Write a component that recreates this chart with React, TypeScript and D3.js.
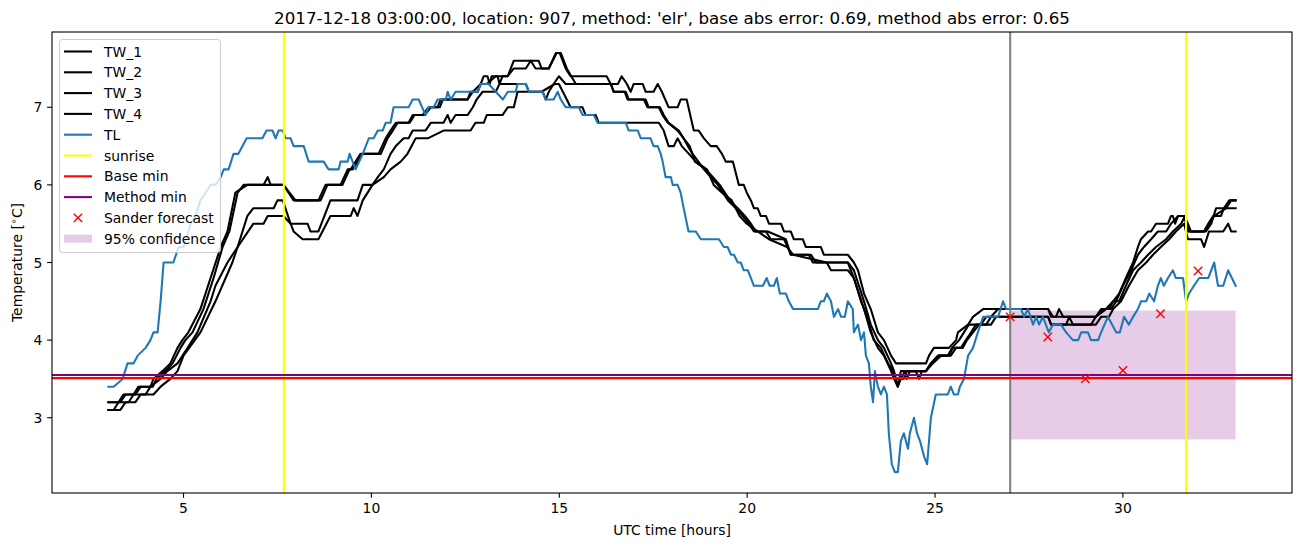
import React from "react";
import * as d3 from "d3";

// ---------- data (hours, °C) ----------
const TL: [number, number][] = [
[3.00,3.4],[3.14,3.4],[3.38,3.5],[3.51,3.7],[3.67,3.7],[3.78,3.8],[3.99,3.9],[4.12,4.0],[4.20,4.1],[4.31,4.1],[4.39,4.5],[4.47,5.0],[4.73,5.0],[4.87,5.2],[5.00,5.2],[5.19,5.5],[5.32,5.6],[5.45,5.8],[5.59,5.9],[5.72,6.0],[5.85,6.0],[5.99,6.1],[6.07,6.2],[6.20,6.2],[6.33,6.4],[6.46,6.4],[6.68,6.6],[7.10,6.6],[7.21,6.7],[7.37,6.7],[7.45,6.6],[7.53,6.7],[7.64,6.7],[7.72,6.6],[7.85,6.6],[7.93,6.5],[8.20,6.5],[8.33,6.3],[8.73,6.3],[8.86,6.2],[9.13,6.2],[9.18,6.3],[9.37,6.3],[9.42,6.4],[9.58,6.2],[9.77,6.4],[9.93,6.6],[10.06,6.6],[10.17,6.7],[10.30,6.7],[10.38,6.8],[10.51,6.8],[10.59,7.0],[10.99,7.0],[11.10,7.1],[11.26,7.1],[11.44,6.9],[11.52,7.0],[11.66,7.0],[11.76,7.1],[11.98,7.1],[12.03,7.2],[12.11,7.1],[12.24,7.2],[12.83,7.2],[12.91,7.3],[13.12,7.3],[13.31,7.2],[13.50,7.1],[13.63,7.2],[13.84,7.2],[13.89,7.3],[14.11,7.3],[14.19,7.2],[14.56,7.2],[14.64,7.1],[14.85,7.1],[14.96,7.2],[15.04,7.1],[15.17,7.0],[15.52,7.0],[15.62,6.9],[15.92,6.9],[16.02,6.8],[16.77,6.8],[16.85,6.7],[17.09,6.7],[17.17,6.6],[17.43,6.6],[17.51,6.5],[17.62,6.5],[17.70,6.4],[17.75,6.3],[17.83,6.1],[17.97,6.1],[18.02,6.0],[18.15,6.0],[18.23,5.9],[18.31,5.7],[18.44,5.4],[18.63,5.4],[18.77,5.3],[19.25,5.3],[19.38,5.2],[19.48,5.2],[19.57,5.1],[19.65,5.1],[19.75,5.0],[19.83,5.0],[19.91,4.9],[20.02,4.9],[20.10,4.8],[20.18,4.7],[20.42,4.7],[20.52,4.8],[20.60,4.7],[20.71,4.7],[20.79,4.8],[20.87,4.6],[21.03,4.6],[21.11,4.5],[21.22,4.4],[21.88,4.4],[21.96,4.5],[22.04,4.5],[22.12,4.6],[22.23,4.5],[22.31,4.3],[22.42,4.4],[22.50,4.3],[22.60,4.3],[22.68,4.5],[22.81,4.4],[22.84,4.1],[22.95,4.2],[23.03,4.0],[23.11,4.1],[23.16,3.8],[23.24,3.7],[23.29,3.4],[23.35,3.2],[23.40,3.6],[23.48,3.4],[23.56,3.3],[23.64,3.4],[23.72,3.3],[23.77,2.8],[23.85,2.4],[23.93,2.3],[24.01,2.3],[24.09,2.7],[24.17,2.8],[24.28,2.6],[24.33,2.8],[24.44,3.0],[24.52,2.8],[24.60,2.7],[24.71,2.5],[24.79,2.4],[24.84,2.7],[24.89,3.0],[25.02,3.3],[25.34,3.3],[25.42,3.4],[25.50,3.3],[25.61,3.3],[25.66,3.4],[25.77,3.5],[25.88,3.8],[26.01,3.9],[26.14,4.1],[26.28,4.3],[26.68,4.3],[26.81,4.5],[26.89,4.4],[27.29,4.4],[27.37,4.3],[27.47,4.4],[27.61,4.2],[27.69,4.3],[27.77,4.2],[27.87,4.3],[28.03,4.1],[28.14,4.2],[28.35,4.2],[28.49,4.1],[28.67,4.0],[28.81,4.0],[28.89,4.1],[29.07,4.1],[29.15,4.0],[29.34,4.0],[29.42,4.1],[29.60,4.3],[29.82,4.1],[29.92,4.1],[30.03,4.3],[30.16,4.2],[30.27,4.3],[30.40,4.4],[30.48,4.5],[30.62,4.5],[30.70,4.6],[30.83,4.5],[30.93,4.7],[31.01,4.8],[31.09,4.7],[31.20,4.8],[31.33,4.9],[31.41,4.8],[31.60,4.8],[31.68,4.5],[31.76,4.6],[31.89,4.7],[32.03,4.8],[32.27,4.8],[32.43,5.0],[32.53,4.7],[32.67,4.7],[32.80,4.9],[33.00,4.7]];

const TW_1: [number, number][] = [
[3.00,3.2],[3.27,3.2],[3.40,3.3],[3.67,3.3],[3.80,3.4],[4.12,3.4],[4.20,3.5],[4.44,3.6],[4.65,3.7],[4.84,3.9],[4.97,4.0],[5.13,4.1],[5.45,4.4],[5.72,4.8],[5.99,5.2],[6.17,5.4],[6.38,5.9],[6.70,6.0],[7.13,6.0],[7.24,6.1],[7.32,6.0],[7.66,6.0],[7.93,5.8],[8.59,5.8],[8.78,6.0],[9.18,6.0],[9.37,6.2],[9.45,6.2],[9.71,6.4],[10.19,6.4],[10.38,6.6],[10.51,6.7],[10.65,6.8],[10.99,6.8],[11.10,6.9],[11.36,6.9],[11.52,7.0],[11.76,7.0],[11.84,7.1],[12.56,7.1],[12.64,7.2],[12.83,7.2],[12.91,7.3],[12.99,7.4],[13.09,7.4],[13.15,7.3],[13.20,7.4],[13.36,7.4],[13.41,7.3],[13.49,7.4],[13.63,7.4],[13.79,7.6],[14.45,7.6],[14.53,7.5],[14.72,7.5],[14.91,7.7],[15.01,7.7],[15.17,7.5],[15.30,7.4],[16.26,7.4],[16.37,7.3],[16.56,7.3],[16.66,7.4],[16.80,7.3],[16.90,7.2],[16.98,7.3],[17.22,7.3],[17.30,7.2],[17.51,7.2],[17.62,7.3],[17.73,7.2],[17.91,7.0],[18.15,7.0],[18.23,7.1],[18.39,7.1],[18.58,6.7],[18.71,6.7],[18.85,6.6],[19.03,6.5],[19.19,6.5],[19.33,6.4],[19.43,6.3],[19.62,6.3],[19.78,6.0],[19.91,6.0],[19.99,5.9],[20.10,5.8],[20.18,5.7],[20.28,5.7],[20.36,5.6],[20.50,5.6],[20.58,5.5],[20.90,5.5],[20.98,5.4],[21.16,5.4],[21.24,5.3],[21.48,5.3],[21.56,5.2],[21.96,5.2],[22.04,5.1],[22.68,5.1],[22.84,5.0],[22.95,4.9],[23.11,4.6],[23.29,4.4],[23.48,4.1],[23.64,4.0],[23.83,3.8],[23.96,3.7],[24.76,3.7],[24.84,3.8],[24.97,3.9],[25.37,3.9],[25.56,4.0],[25.61,4.1],[25.88,4.2],[26.01,4.3],[26.28,4.4],[28.01,4.4],[28.09,4.3],[28.22,4.3],[28.30,4.4],[28.41,4.3],[29.28,4.3],[29.42,4.4],[29.63,4.4],[29.74,4.5],[29.90,4.6],[30.08,4.8],[30.27,5.0],[30.40,5.2],[30.48,5.3],[30.67,5.4],[30.75,5.4],[30.88,5.5],[31.20,5.5],[31.28,5.6],[31.33,5.6],[31.39,5.5],[31.47,5.6],[31.63,5.6],[31.73,5.5],[31.81,5.4],[32.16,5.4],[32.27,5.5],[32.40,5.6],[32.61,5.6],[32.69,5.7],[32.83,5.8],[33.00,5.8]];

const TW_2: [number, number][] = [
[3.00,3.2],[3.32,3.2],[3.46,3.3],[3.72,3.3],[3.86,3.4],[4.18,3.4],[4.28,3.5],[4.52,3.6],[4.71,3.7],[4.92,3.9],[5.05,4.0],[5.24,4.1],[5.53,4.4],[5.80,4.8],[6.04,5.2],[6.22,5.4],[6.44,5.9],[6.60,6.0],[7.66,6.0],[7.98,5.8],[8.65,5.8],[8.83,6.0],[9.23,6.0],[9.42,6.2],[9.50,6.2],[9.77,6.4],[10.25,6.4],[10.43,6.6],[10.57,6.7],[10.70,6.8],[11.02,6.8],[11.15,6.9],[11.42,6.9],[11.58,7.0],[11.82,7.0],[11.90,7.1],[12.56,7.1],[12.70,7.2],[12.91,7.3],[13.07,7.3],[13.31,7.4],[13.63,7.4],[13.79,7.5],[14.11,7.5],[14.24,7.6],[14.37,7.5],[14.72,7.5],[14.93,7.7],[15.04,7.7],[15.20,7.5],[15.44,7.3],[16.37,7.3],[16.45,7.2],[16.74,7.2],[16.82,7.1],[17.25,7.1],[17.35,7.0],[17.65,7.0],[17.75,6.9],[17.89,6.8],[18.15,6.7],[18.31,6.6],[18.42,6.5],[18.55,6.4],[18.85,6.2],[19.03,6.1],[19.22,6.0],[19.49,5.8],[19.70,5.7],[19.88,5.6],[20.04,5.5],[20.18,5.4],[20.50,5.4],[20.63,5.3],[20.98,5.3],[21.08,5.2],[21.16,5.1],[21.64,5.1],[21.75,5.0],[22.68,5.0],[22.84,4.9],[23.11,4.5],[23.29,4.2],[23.48,4.0],[23.64,3.9],[23.83,3.7],[23.91,3.6],[24.01,3.4],[24.09,3.6],[24.17,3.6],[24.25,3.5],[24.33,3.6],[24.76,3.6],[24.89,3.7],[25.08,3.8],[25.37,3.8],[25.48,3.9],[25.69,3.9],[25.82,4.0],[25.96,4.1],[26.09,4.2],[26.36,4.2],[26.49,4.3],[26.68,4.4],[28.01,4.4],[28.14,4.3],[29.28,4.3],[29.50,4.4],[29.68,4.4],[29.82,4.5],[30.00,4.7],[30.22,4.9],[30.40,5.1],[30.56,5.2],[30.75,5.3],[30.93,5.4],[31.15,5.4],[31.28,5.5],[31.47,5.6],[31.63,5.6],[31.73,5.4],[32.21,5.4],[32.35,5.5],[32.48,5.7],[33.00,5.7]];

const TW_3: [number, number][] = [
[3.00,3.1],[3.14,3.1],[3.27,3.2],[3.54,3.2],[3.67,3.3],[3.99,3.3],[4.12,3.4],[4.39,3.5],[4.57,3.6],[4.84,3.7],[5.11,3.9],[5.37,4.1],[5.72,4.5],[5.85,4.7],[6.17,5.0],[6.44,5.2],[6.70,5.6],[6.86,5.7],[7.40,5.7],[7.50,5.8],[7.64,5.8],[7.85,5.5],[8.30,5.5],[8.38,5.4],[8.59,5.4],[8.91,5.8],[9.63,5.8],[9.77,6.0],[10.03,6.0],[10.17,6.1],[10.33,6.2],[10.51,6.4],[10.65,6.5],[10.86,6.6],[10.99,6.6],[11.10,6.7],[11.44,6.7],[11.58,6.8],[11.92,6.8],[12.03,6.9],[12.11,6.8],[12.24,6.9],[12.56,6.9],[12.70,7.0],[12.80,7.1],[12.96,7.2],[13.31,7.2],[13.41,7.3],[14.11,7.3],[14.19,7.2],[14.56,7.2],[14.64,7.1],[14.72,7.2],[14.85,7.3],[14.99,7.4],[15.17,7.3],[16.37,7.3],[16.45,7.2],[16.77,7.2],[16.85,7.1],[17.30,7.1],[17.38,7.0],[17.68,7.0],[17.78,6.9],[17.91,6.8],[18.18,6.7],[18.31,6.6],[18.47,6.5],[18.61,6.3],[18.90,6.2],[19.09,6.1],[19.27,6.0],[19.54,5.8],[19.75,5.7],[19.94,5.6],[20.10,5.5],[20.23,5.4],[20.55,5.4],[21.03,5.3],[21.16,5.1],[21.70,5.1],[21.83,5.0],[22.68,5.0],[22.84,4.8],[23.11,4.4],[23.29,4.1],[23.48,3.9],[23.64,3.8],[23.83,3.6],[23.91,3.5],[24.01,3.4],[24.09,3.5],[24.20,3.6],[24.49,3.6],[24.57,3.5],[24.65,3.6],[24.76,3.6],[24.94,3.7],[25.16,3.8],[25.42,3.8],[25.56,3.9],[25.74,3.9],[25.85,4.0],[26.01,4.1],[26.17,4.2],[26.49,4.2],[26.62,4.3],[28.01,4.3],[28.09,4.2],[28.49,4.2],[28.57,4.3],[28.67,4.2],[29.15,4.2],[29.28,4.3],[29.55,4.4],[29.74,4.5],[29.90,4.5],[30.08,4.7],[30.27,4.9],[30.48,5.0],[30.67,5.1],[30.88,5.2],[31.15,5.3],[31.33,5.4],[31.55,5.5],[31.65,5.6],[31.76,5.4],[32.16,5.4],[32.29,5.5],[32.43,5.6],[32.75,5.7],[32.88,5.8],[33.00,5.8]];

const TW_4: [number, number][] = [
[3.00,3.1],[3.32,3.1],[3.46,3.2],[3.72,3.2],[3.86,3.3],[4.20,3.3],[4.39,3.4],[4.65,3.5],[4.84,3.6],[5.00,3.8],[5.45,4.1],[5.85,4.5],[6.30,5.0],[6.44,5.2],[6.86,5.5],[7.13,5.5],[7.24,5.6],[7.66,5.6],[7.85,5.5],[7.93,5.4],[8.17,5.3],[8.59,5.3],[8.91,5.6],[9.45,5.6],[9.53,5.7],[9.63,5.6],[9.77,5.8],[10.03,6.0],[10.33,6.1],[10.51,6.2],[10.78,6.3],[10.96,6.4],[11.18,6.6],[11.50,6.6],[11.92,6.7],[12.64,6.7],[12.77,6.8],[12.99,6.8],[13.07,6.9],[13.49,6.9],[13.63,7.0],[13.79,7.0],[13.89,7.2],[14.53,7.2],[14.88,7.3],[14.99,7.3],[15.20,7.1],[15.30,7.0],[15.62,7.0],[15.70,6.9],[15.97,6.9],[16.05,6.8],[17.65,6.8],[17.78,6.7],[17.91,6.5],[18.05,6.5],[18.15,6.6],[18.26,6.5],[18.45,6.4],[18.63,6.3],[18.93,6.2],[19.11,6.0],[19.33,5.9],[19.59,5.8],[19.80,5.6],[19.99,5.5],[20.28,5.4],[20.58,5.3],[21.06,5.2],[21.22,5.1],[22.12,5.0],[22.23,4.9],[22.68,4.9],[22.84,4.8],[23.03,4.5],[23.19,4.3],[23.37,4.0],[23.56,3.9],[23.75,3.7],[23.88,3.6],[23.96,3.5],[24.17,3.5],[24.25,3.6],[24.76,3.6],[24.89,3.7],[25.08,3.8],[25.34,3.8],[25.45,3.9],[25.64,4.0],[25.77,4.1],[25.90,4.2],[26.22,4.2],[26.36,4.3],[28.01,4.3],[28.09,4.2],[29.28,4.2],[29.42,4.3],[29.63,4.3],[29.74,4.4],[29.95,4.5],[30.16,4.7],[30.40,4.9],[30.62,5.0],[30.80,5.1],[31.01,5.2],[31.23,5.3],[31.41,5.4],[31.63,5.5],[31.73,5.3],[32.08,5.3],[32.16,5.2],[32.29,5.4],[32.67,5.4],[32.80,5.5],[32.88,5.4],[33.00,5.4]];

const forecastHours = [27, 28, 29, 30, 31, 32];
const forecastValues = [4.3, 4.04, 3.5, 3.61, 4.34, 4.89];
const sunriseHours = [7.67, 31.68];
const forecastStart = 27;
const confidenceRange = [27, 33];
const confidenceBounds = [2.72, 4.38];
const baseMin = 3.51;
const methodMin = 3.55;
const xTicks = [5, 10, 15, 20, 25, 30];
const yTicks = [3, 4, 5, 6, 7];
const title = "2017-12-18 03:00:00, location: 907, method: 'elr', base abs error: 0.69, method abs error: 0.65";

const twSeries = [
  { name: "TW_1", data: TW_1 },
  { name: "TW_2", data: TW_2 },
  { name: "TW_3", data: TW_3 },
  { name: "TW_4", data: TW_4 },
];

const W = 1302, H = 547;
const M = { left: 52, right: 1292, top: 32, bottom: 493 };
const FONT = "DejaVu Sans, sans-serif";
const LW = 2.08; // 1.5pt at 100 dpi
const TICK = 4.86;

export default function App() {
  const allX = [...TL, ...TW_1].map((d) => d[0]);
  const [x0, x1] = d3.extent(allX) as [number, number];
  const allY = [...TL, ...TW_1, ...TW_2, ...TW_3, ...TW_4].map((d) => d[1]).concat(confidenceBounds, forecastValues);
  const [y0, y1] = d3.extent(allY) as [number, number];
  const xp = (x1 - x0) * 0.05, yp = (y1 - y0) * 0.05;
  const x = d3.scaleLinear().domain([x0 - xp, x1 + xp]).range([M.left, M.right]);
  const y = d3.scaleLinear().domain([y0 - yp, y1 + yp]).range([M.bottom, M.top]);
  const line = d3.line<[number, number]>().x((d) => x(d[0])).y((d) => y(d[1]));

  const legendItems = [
    ...twSeries.map((s) => ({ label: s.name, kind: "line", color: "#000000" })),
    { label: "TL", kind: "line", color: "#1f77b4" },
    { label: "sunrise", kind: "line", color: "#ffff00" },
    { label: "Base min", kind: "line", color: "#ff0000" },
    { label: "Method min", kind: "line", color: "#800080" },
    { label: "Sander forecast", kind: "x", color: "#ff0000" },
    { label: "95% confidence", kind: "patch", color: "#800080" },
  ];

  const cross = (cx: number, cy: number, r: number, key: string) => (
    <g key={key} stroke="#ff0000" strokeWidth={1.4}>
      <line x1={cx - r} y1={cy - r} x2={cx + r} y2={cy + r} />
      <line x1={cx - r} y1={cy + r} x2={cx + r} y2={cy - r} />
    </g>
  );

  return (
    <svg width={W} height={H} style={{ position: "absolute", left: 0, top: 0, background: "#fff" }} fontFamily={FONT}>
      <rect x={0} y={0} width={W} height={H} fill="#fff" />
      <defs>
        <clipPath id="plotclip">
          <rect x={M.left} y={M.top} width={M.right - M.left} height={M.bottom - M.top} />
        </clipPath>
      </defs>
      <g clipPath="url(#plotclip)">
        <rect x={x(confidenceRange[0])} width={x(confidenceRange[1]) - x(confidenceRange[0])} y={y(confidenceBounds[1])} height={y(confidenceBounds[0]) - y(confidenceBounds[1])} fill="#800080" fillOpacity={0.2} />
        {twSeries.map((s) => (
          <path key={s.name} d={line(s.data) || ""} fill="none" stroke="#000" strokeWidth={LW} strokeLinejoin="round" strokeLinecap="square" />
        ))}
        <path d={line(TL) || ""} fill="none" stroke="#1f77b4" strokeWidth={LW} strokeLinejoin="round" strokeLinecap="square" />
        {sunriseHours.map((h, i) => (
          <line key={"s" + i} x1={x(h)} x2={x(h)} y1={M.top} y2={M.bottom} stroke="#ffff00" strokeWidth={LW} />
        ))}
        <line x1={x(forecastStart)} x2={x(forecastStart)} y1={M.top} y2={M.bottom} stroke="#808080" strokeWidth={LW} />
        <line x1={M.left} x2={M.right} y1={y(baseMin)} y2={y(baseMin)} stroke="#ff0000" strokeWidth={LW} />
        <line x1={M.left} x2={M.right} y1={y(methodMin)} y2={y(methodMin)} stroke="#800080" strokeWidth={LW} />
        {forecastHours.map((h, i) => cross(x(h), y(forecastValues[i]), 4.17, "f" + i))}
      </g>
      {/* axes frame */}
      <rect x={M.left} y={M.top} width={M.right - M.left} height={M.bottom - M.top} fill="none" stroke="#000" strokeWidth={1.1} />
      {xTicks.map((t) => (
        <g key={"xt" + t}>
          <line x1={x(t)} x2={x(t)} y1={M.bottom} y2={M.bottom + TICK} stroke="#000" strokeWidth={1.1} />
          <text x={x(t)} y={M.bottom + TICK + 4.86} dy="0.76em" textAnchor="middle" fontSize={13.9} fill="#000">{t}</text>
        </g>
      ))}
      {yTicks.map((t) => (
        <g key={"yt" + t}>
          <line x1={M.left - TICK} x2={M.left} y1={y(t)} y2={y(t)} stroke="#000" strokeWidth={1.1} />
          <text x={M.left - TICK - 4.86} y={y(t)} dy="0.36em" textAnchor="end" fontSize={13.9} fill="#000">{t}</text>
        </g>
      ))}
      <text x={(M.left + M.right) / 2} y={535} textAnchor="middle" fontSize={13.9} fill="#000">UTC time [hours]</text>
      <text transform={`translate(22,${(M.top + M.bottom) / 2}) rotate(-90)`} textAnchor="middle" fontSize={13.9} fill="#000">
        Temperature [<tspan fontSize={9.7} dy="-5">∘</tspan><tspan dy="5">C]</tspan>
      </text>
      <text x={(M.left + M.right) / 2} y={24} textAnchor="middle" fontSize={16.7} fill="#000">{title}</text>
      {/* legend */}
      <g>
        <rect x={59.5} y={39.5} width={161} height={213} rx={3} fill="#fff" fillOpacity={0.8} stroke="#cccccc" strokeWidth={1} />
        {legendItems.map((it, i) => {
          const cy = 51.5 + i * 20.8;
          let mark;
          if (it.kind === "line") mark = <line x1={64} x2={92} y1={cy} y2={cy} stroke={it.color} strokeWidth={LW} />;
          else if (it.kind === "x") mark = cross(78, cy, 4.17, "lx");
          else mark = <rect x={64} y={cy - 4} width={28} height={8} fill={it.color} fillOpacity={0.2} />;
          return (
            <g key={it.label}>
              {mark}
              <text x={104} y={cy} dy="0.36em" fontSize={13.9} fill="#000">{it.label}</text>
            </g>
          );
        })}
      </g>
    </svg>
  );
}
